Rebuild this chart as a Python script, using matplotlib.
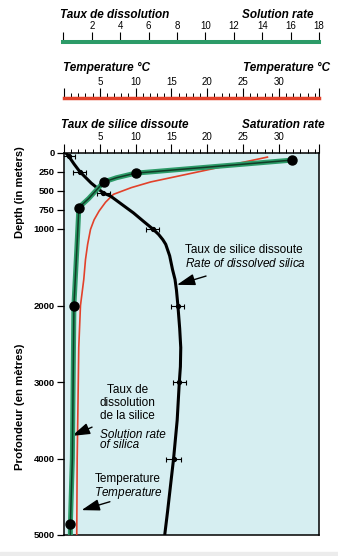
import numpy as np
import matplotlib.pyplot as plt
from matplotlib.ticker import MultipleLocator
from matplotlib.patches import Rectangle

plt.rcParams['font.family'] = ['Liberation Sans', 'DejaVu Sans']
plt.rcParams['mathtext.fontset'] = 'custom'
plt.rcParams['mathtext.rm'] = 'Liberation Sans'
plt.rcParams['mathtext.it'] = 'Liberation Sans:italic'

# Profondeurs (m) et graduations
depth_ticks = [0, 250, 500, 750, 1000, 2000, 3000, 4000, 5000]

# Taux de silice dissoute (courbe noire, lue le long de la courbe)
silica_depth = [0, 50, 150, 250, 400, 530, 570, 680, 790, 900, 1000, 1070, 1140, 1200,
                1350, 1530, 1660, 1800, 2000, 2300, 2550, 2800, 3000, 3500, 4000, 4370, 4700, 5000]
silica_value = [0.2, 0.67, 1.4, 2.2, 3.8, 5.5, 6.5, 8.1, 9.7, 11.1, 12.4, 13.2, 13.8, 14.2,
                14.75, 15.15, 15.5, 15.7, 15.9, 16.15, 16.3, 16.25, 16.1, 15.8, 15.3, 14.85, 14.45, 14.06]
# points mesures avec barres d'erreur
silica_pt_depth = [50, 250, 530, 1000, 2000, 3000, 4000]
silica_pt_value = [0.67, 2.2, 5.5, 12.4, 15.9, 16.1, 15.3]
silica_err = [0.8, 0.9, 0.9, 0.9, 0.9, 0.9, 1.0]

# Temperature (courbe rouge)
temp_depth = [60, 200, 385, 459, 547, 650, 765, 880, 1005, 1200, 1400, 1660, 2000, 2550, 3500, 4000, 5000]
temp_value = [28.4, 21.4, 12.1, 9.4, 6.9, 5.8, 4.9, 4.2, 3.7, 3.3, 3.0, 2.76, 2.3, 2.06, 1.92, 1.84, 1.78]

# Taux de dissolution de la silice (courbe verte)
rate_depth = [100, 270, 330, 385, 600, 720, 1136, 2000, 4000, 4862, 5000]
rate_value = [16.06, 5.05, 3.7, 2.81, 1.75, 1.05, 0.94, 0.70, 0.59, 0.45, 0.45]
rate_dot_depth = [100, 270, 385, 720, 2000, 4862]
rate_dot_value = [16.06, 5.05, 2.81, 1.05, 0.70, 0.45]

# Echelles du haut
rate_ticks = [0, 2, 4, 6, 8, 10, 12, 14, 16, 18]
temp_ticks = [0, 5, 10, 15, 20, 25, 30]
silica_max = 35.6

GREEN = '#2c9b68'
RED = '#e2412a'
BG = '#d6eef1'

W, H = 338, 556
def fx(px):
    return px / W
def fy(py):
    return 1 - py / H

fig = plt.figure(figsize=(3.38, 5.56), dpi=100)
fig.patches.append(Rectangle((0, 0), 1, 4.5 / H, transform=fig.transFigure,
                             color='#ececec', zorder=-1))


def scale_axis(x0, x1, y, xmax, ticks, color, lw, minor=None):
    s = fig.add_axes([fx(x0), fy(y), fx(x1) - fx(x0), 0.0001])
    s.patch.set_visible(False)
    for side in ['left', 'right', 'bottom']:
        s.spines[side].set_visible(False)
    s.spines['top'].set_color(color)
    s.spines['top'].set_linewidth(lw)
    s.set_yticks([])
    s.set_xlim(0, xmax)
    s.xaxis.tick_top()
    labels = [''] + [str(t) for t in ticks[1:]]
    if minor:
        s.set_xticks(list(ticks) + [xmax], labels + [''])
        s.xaxis.set_minor_locator(MultipleLocator(minor))
    else:
        s.set_xticks(ticks, labels)
    s.tick_params(axis='x', which='major', length=7, width=0.8, pad=0.8,
                  labelsize=7, colors='black')
    s.tick_params(axis='x', which='minor', length=3.3, width=0.7, colors='black')
    return s


# echelle du taux de dissolution
scale_axis(63.4, 319, 41.7, 18, rate_ticks, GREEN, 2.9)
fig.text(fx(60), fy(15), 'Taux de dissolution', fontsize=8.5, fontweight='bold',
         fontstyle='italic', ha='left', va='center')
fig.text(fx(314), fy(15), 'Solution rate', fontsize=8.5, fontweight='bold',
         fontstyle='italic', ha='right', va='center')

# echelle de temperature
scale_axis(64, 319, 98.3, silica_max, temp_ticks, RED, 2.5, minor=1)
fig.text(fx(63), fy(68), 'Temperature °C', fontsize=8.5, fontweight='bold',
         fontstyle='italic', ha='left', va='center')
fig.text(fx(330), fy(68), 'Temperature °C', fontsize=8.5, fontweight='bold',
         fontstyle='italic', ha='right', va='center')

# graphique principal
ax = fig.add_axes([fx(64), fy(535), fx(319) - fx(64), fy(152.5) - fy(535)])
ax.set_facecolor(BG)
ax.set_xlim(0, silica_max)
ax.set_ylim(5000, 0)
for sp in ax.spines.values():
    sp.set_linewidth(1.1)

# temperature
ax.plot(temp_value, temp_depth, color=RED, lw=1.2, zorder=3)
# silice dissoute
ax.plot(silica_value, silica_depth, color='black', lw=2.2, zorder=4,
        solid_capstyle='butt', solid_joinstyle='round')
ax.errorbar(silica_pt_value, silica_pt_depth, xerr=silica_err, fmt='o', ms=2.8,
            color='black', elinewidth=0.8, capsize=1.8, capthick=0.8, zorder=5)

# taux de dissolution (axe jumeau 0-18)
ax2 = ax.twiny()
ax2.set_xlim(0, 18)
ax2.set_ylim(5000, 0)
ax2.axis('off')
ax2.plot(rate_value, rate_depth, color=GREEN, lw=3.6, zorder=3, solid_joinstyle='round')
ax2.plot(rate_value, rate_depth, color='#103c26', lw=1.1, zorder=4)
ax2.plot(rate_dot_value, rate_dot_depth, 'o', color='black', ms=6.5, zorder=5)

# graduations de l'axe principal (apres twiny)
ax.xaxis.tick_top()
ax.set_xticks(temp_ticks + [silica_max], [''] + [str(t) for t in temp_ticks[1:]] + [''])
ax.xaxis.set_minor_locator(MultipleLocator(1))
ax.tick_params(axis='x', which='both', top=True, bottom=False,
               labeltop=True, labelbottom=False)
ax.tick_params(axis='x', which='major', length=6.5, width=0.8, pad=0.8, labelsize=7)
ax.tick_params(axis='x', which='minor', length=3.2, width=0.7)
ax.set_yticks(depth_ticks, [str(d) for d in depth_ticks])
ax.tick_params(axis='y', length=5, width=0.9, pad=1.7, labelsize=6.8)
for lab in ax.get_yticklabels():
    lab.set_fontweight('bold')

fig.text(fx(61), fy(125), 'Taux de silice dissoute', fontsize=8.5, fontweight='bold',
         fontstyle='italic', ha='left', va='center')
fig.text(fx(325), fy(125), 'Saturation rate', fontsize=8.5, fontweight='bold',
         fontstyle='italic', ha='right', va='center')

fig.text(fx(20.5), fy(192), 'Depth (in meters)', fontsize=8, fontweight='bold',
         rotation=90, ha='center', va='center')
fig.text(fx(20.5), fy(406.5), 'Profondeur (en mètres)', fontsize=8.2, fontweight='bold',
         rotation=90, ha='center', va='center')

# annotations
arrow = dict(arrowstyle='-|>,head_length=1.1,head_width=0.35', color='black',
             lw=1.0, shrinkA=0, shrinkB=0)
ax.text(0.4745, 0.726, 'Taux de silice dissoute\n$\\it{Rate\\ of\\ dissolved\\ silica}$',
        transform=ax.transAxes, fontsize=8.5, ha='left', va='center', linespacing=1.1)
ax.annotate('', xy=(0.443, 0.654), xytext=(0.557, 0.677),
            xycoords='axes fraction', textcoords='axes fraction', arrowprops=arrow)

ax.text(0.249, 0.345, 'Taux de\ndissolution\nde la silice', transform=ax.transAxes,
        fontsize=8.5, ha='center', va='center', linespacing=1.15)
ax.text(0.141, 0.248, 'Solution rate\nof silica', transform=ax.transAxes, fontsize=8.5,
        fontstyle='italic', ha='left', va='center', linespacing=0.8)
ax.annotate('', xy=(0.031, 0.259), xytext=(0.11, 0.282),
            xycoords='axes fraction', textcoords='axes fraction', arrowprops=arrow)

ax.text(0.251, 0.126, 'Temperature\n$\\it{Temperature}$', transform=ax.transAxes,
        fontsize=8.5, ha='center', va='center', linespacing=1.0)
ax.annotate('', xy=(0.069, 0.065), xytext=(0.18, 0.087),
            xycoords='axes fraction', textcoords='axes fraction', arrowprops=arrow)

fig.savefig('out.png', dpi=100)
